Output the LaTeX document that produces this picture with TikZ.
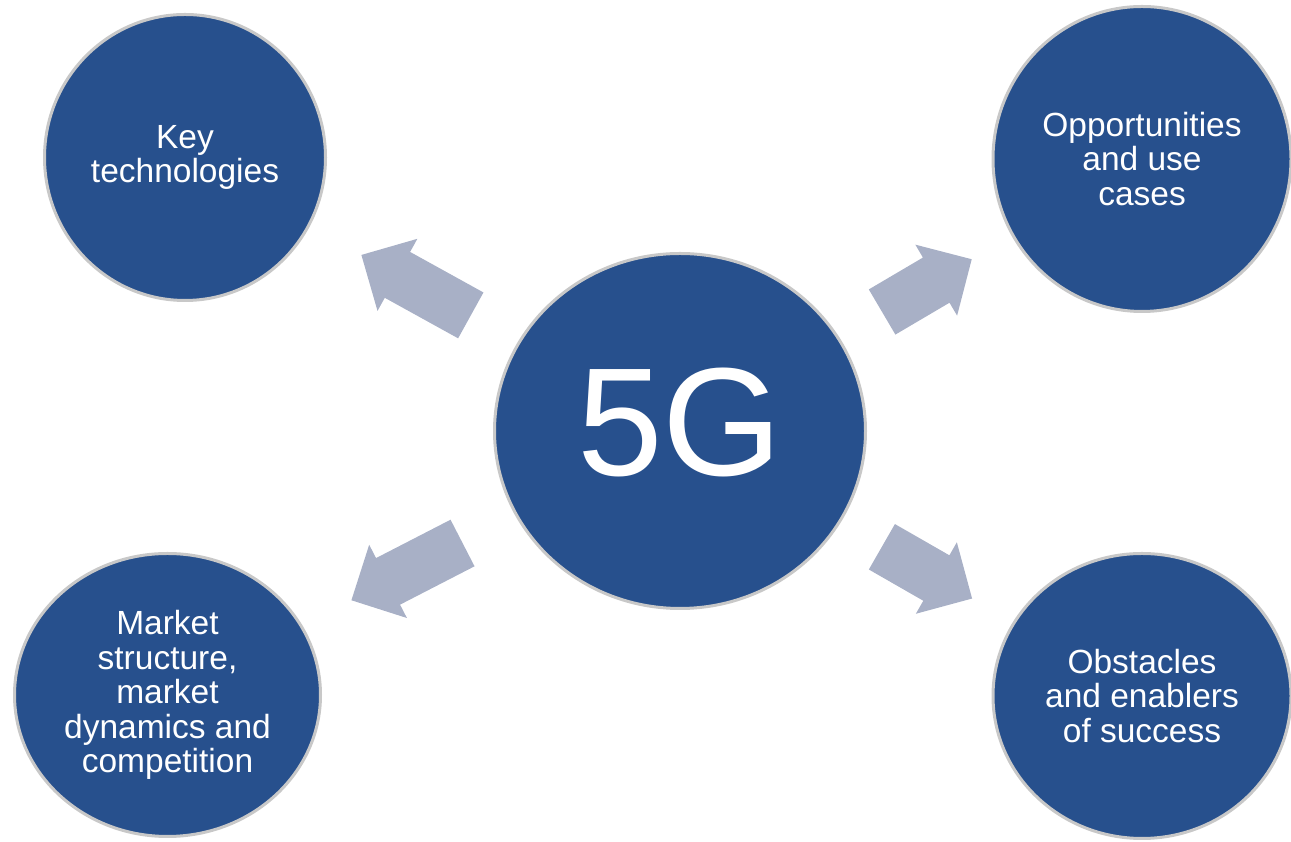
\documentclass[tikz,border=0pt]{standalone}
\usepackage{fontspec}
\setmainfont{Liberation Sans}
\usetikzlibrary{shapes.geometric,shapes.arrows}
\definecolor{discblue}{RGB}{39,80,141}
\definecolor{discrim}{RGB}{200,200,200}
\definecolor{arrowgrey}{RGB}{168,176,198}

\begin{document}
\begin{tikzpicture}[x=1pt,y=1pt,
	disc/.style={ellipse,draw=discrim,line width=3pt,fill=discblue,text=white,inner sep=0pt,align=center,font=\fontsize{33.5}{34.5}\selectfont},
	blockarrow/.style={single arrow,fill=arrowgrey,inner sep=0pt,inner ysep=26pt,single arrow head extend=15pt,minimum width=82pt,sloped,allow upside down,pos=0.51}]
	
	\useasboundingbox (0,0) rectangle (1291,842);
	
	\node[disc,minimum width=371pt,minimum height=355pt,font=\fontsize{154}{154}\selectfont,text depth=18pt] (G) at (680,411) {5G};
	
	\node[disc,minimum width=281pt,minimum height=286pt] (K) at (185,684.5) {Key\\technologies};
	\node[disc,minimum width=298pt,minimum height=305pt] (O) at (1142,683) {Opportunities\\and use\\cases};
	\node[disc,minimum width=306pt,minimum height=283pt] (M) at (167.5,147) {Market\\structure,\\market\\dynamics and\\competition};
	\node[disc,minimum width=298pt,minimum height=285pt] (S) at (1142,146) {Obstacles\\and enablers\\of success};
	
	\path (G.center) -- (K.center) node[blockarrow,minimum height=125pt] (A1) {};
	\path (G.center) -- (O.center) node[blockarrow,minimum height=104pt] (A2) {};
	\path (G.center) -- (M.center) node[blockarrow,minimum height=125pt] (A3) {};
	\path (G.center) -- (S.center) node[blockarrow,minimum height=104pt] (A4) {};
	
\end{tikzpicture}
\end{document}
